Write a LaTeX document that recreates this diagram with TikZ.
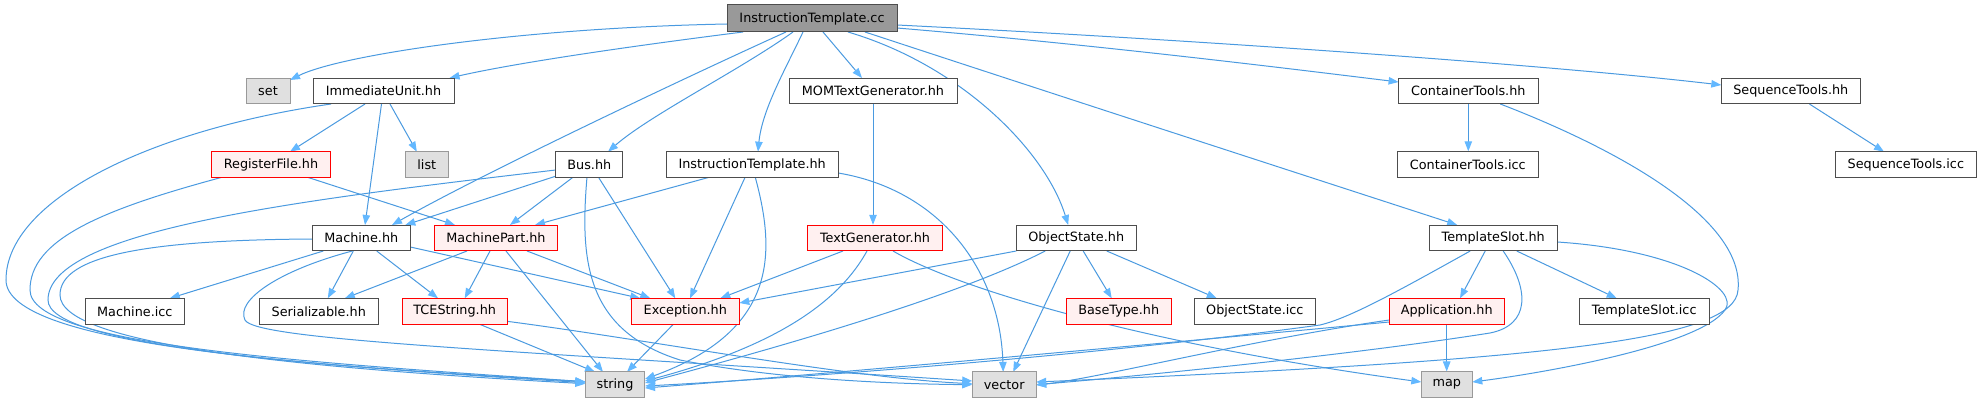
\documentclass[tikz,border=0pt]{standalone}
\usepackage{fontspec}
\setmainfont{DejaVu Sans}
\usetikzlibrary{arrows.meta,calc}
\definecolor{edgec}{HTML}{63B8FF}
\definecolor{edgeline}{HTML}{4A9AE0}
\definecolor{nodeborder}{HTML}{4D4D4D}
\definecolor{greyfill}{HTML}{E0E0E0}
\definecolor{greyborder}{HTML}{999999}
\definecolor{mainfill}{HTML}{999999}
\definecolor{truncfill}{HTML}{FFF0F0}
\pgfdeclarelayer{bg}
\pgfsetlayers{bg,main}
\begin{document}
\begin{tikzpicture}[x=0.75pt,y=-0.75pt,
  base/.style={rectangle, inner sep=0pt, minimum height=19.1pt, line width=0.75pt,
    font=\fontsize{9.6}{11}\selectfont, text=black},
  nrm/.style={base, draw=nodeborder, fill=white},
  grey/.style={base, draw=greyborder, fill=greyfill},
  trunc/.style={base, draw=red, fill=truncfill},
  mainnode/.style={base, draw=nodeborder, fill=mainfill},
  wd/.style={minimum width=#1*0.75pt},
  dep/.style={draw=edgeline, line width=0.75pt, -{Triangle[length=7.5pt,width=5.6pt,color=edgec]}}]
\useasboundingbox (0,0) rectangle (1981,403);

\node[mainnode, wd=170, minimum height=20.25pt] (ITcc) at (812,18.5) {InstructionTemplate.cc};
\node[grey, wd=44] (set) at (268,91) {set};
\node[nrm, wd=141] (IU) at (383.5,91) {ImmediateUnit.hh};
\node[nrm, wd=168] (MOM) at (873,91) {MOMTextGenerator.hh};
\node[nrm, wd=139.4] (CTh) at (1468.3,91) {ContainerTools.hh};
\node[nrm, wd=139] (STh) at (1790.8,91) {SequenceTools.hh};
\node[trunc, wd=119] (RF) at (271,164.5) {RegisterFile.hh};
\node[grey, wd=43] (list) at (426.8,164.5) {list};
\node[nrm, wd=67.3] (Bus) at (589.3,164.5) {Bus.hh};
\node[nrm, wd=171.7] (IThh) at (752.2,164.5) {InstructionTemplate.hh};
\node[nrm, wd=141] (CTicc) at (1467.8,164.5) {ContainerTools.icc};
\node[nrm, wd=140.7] (STicc) at (1905.8,164.5) {SequenceTools.icc};
\node[nrm, wd=98] (Mach) at (361.3,238) {Machine.hh};
\node[trunc, wd=123.4] (MP) at (496,238) {MachinePart.hh};
\node[trunc, wd=134.6] (TG) at (875,238) {TextGenerator.hh};
\node[nrm, wd=119.7] (OS) at (1076.2,238) {ObjectState.hh};
\node[nrm, wd=127.7] (TSh) at (1493.2,238) {TemplateSlot.hh};
\node[nrm, wd=99] (Micc) at (134.8,311.3) {Machine.icc};
\node[nrm, wd=119] (Ser) at (318.8,311.3) {Serializable.hh};
\node[trunc, wd=104.7] (TCE) at (454.7,311.3) {TCEString.hh};
\node[trunc, wd=108] (Exc) at (685.3,311.3) {Exception.hh};
\node[trunc, wd=105.3] (BT) at (1118.7,311.3) {BaseType.hh};
\node[nrm, wd=121] (OSicc) at (1254.8,311.3) {ObjectState.icc};
\node[trunc, wd=114.7] (App) at (1446.7,311.3) {Application.hh};
\node[nrm, wd=129.9] (TSicc) at (1644.2,311.3) {TemplateSlot.icc};
\node[grey, wd=59.4] (str) at (615,384.7) {string};
\node[grey, wd=63.7] (vec) at (1004.2,384.7) {vector};
\node[grey, wd=51] (map) at (1446.8,384.7) {map};

\begin{pgfonlayer}{bg}
\fill[white] (0,0) rectangle (1981,403);
% InstructionTemplate.cc
\draw[dep] ($(ITcc)+(-85,5.5)$) .. controls (520,28) and (340,55) .. ($(set)+(22,-11)$);
\draw[dep] ($(ITcc)+(-69,13.5)$) .. controls (640,45) and (520,62) .. ($(IU)+(66,-13)$);
\draw[dep] ($(ITcc)+(-26,13.5)$) .. controls (680,80) and (480,175) .. ($(Mach)+(30.7,-13)$);
\draw[dep] ($(ITcc)+(-19,13.5)$) .. controls (740,70) and (650,115) .. ($(Bus)+(18.7,-12.8)$);
\draw[dep] ($(ITcc)+(-9,13.5)$) .. controls (785,70) and (762,110) .. ($(IThh)+(5.8,-12.8)$);
\draw[dep] ($(ITcc)+(11,13.5)$) -- ($(MOM)+(-11,-13)$);
\draw[dep] ($(ITcc)+(36,13.5)$) .. controls (960,65) and (1045,150) .. ($(OS)+(-8,-13)$);
\draw[dep] ($(ITcc)+(53,13.5)$) .. controls (1060,96) and (1260,161) .. ($(TSh)+(-36,-13)$);
\draw[dep] ($(ITcc)+(85,9.5)$) .. controls (1100,45) and (1300,70) .. ($(CTh)+(-69.7,-9)$);
\draw[dep] ($(ITcc)+(85,6.5)$) .. controls (1200,40) and (1550,65) .. ($(STh)+(-69.5,-6)$);
% ImmediateUnit.hh
\draw[dep] ($(IU)+(-52.5,13)$) .. controls (150,130) and (6,200) .. (6,280) .. controls (6,345) and (300,365) .. ($(str)+(-29.7,-3)$);
\draw[dep] ($(IU)+(-18.5,13)$) -- ($(RF)+(19,-12.8)$);
\draw[dep] ($(IU)+(-2,13)$) -- ($(Mach)+(3.7,-13)$);
\draw[dep] ($(IU)+(6.5,13)$) -- ($(list)+(-10,-12.8)$);
% RegisterFile.hh
\draw[dep] ($(RF)+(-48,12.5)$) .. controls (100,210) and (30,240) .. (30,290) .. controls (30,345) and (300,362) .. ($(str)+(-29.7,-3)$);
\draw[dep] ($(RF)+(35.7,12.5)$) -- ($(MP)+(-41,-13)$);
% Bus.hh
\draw[dep] ($(Bus)+(-33.6,5.5)$) .. controls (300,200) and (48,230) .. (48,300) .. controls (48,345) and (300,365) .. ($(str)+(-29.7,-2)$);
\draw[dep] ($(Bus)+(-33,11.5)$) -- ($(Mach)+(44,-13)$);
\draw[dep] ($(Bus)+(-16,12.5)$) -- ($(MP)+(14,-13)$);
\draw[dep] ($(Bus)+(9,12.5)$) -- ($(Exc)+(-10,-13)$);
\draw[dep] ($(Bus)+(-2.3,12.5)$) .. controls (580,260) and (585,330) .. (680,360) .. controls (780,380) and (900,384) .. ($(vec)+(-32,0)$);
% InstructionTemplate.hh
\draw[dep] ($(IThh)+(-42,12.5)$) -- ($(MP)+(39,-13)$);
\draw[dep] ($(IThh)+(-7,12.5)$) -- ($(Exc)+(4.7,-13)$);
\draw[dep] ($(IThh)+(3,12.5)$) .. controls (775,250) and (780,330) .. ($(str)+(30,-5.7)$);
\draw[dep] ($(IThh)+(86,8.5)$) .. controls (940,190) and (1000,270) .. ($(vec)+(-1,-12.8)$);
% MOMTextGenerator.hh
\draw[dep] (MOM.south) -- (MOM.south |- TG.north);
% TextGenerator.hh
\draw[dep] ($(TG)+(-32,13)$) -- ($(Exc)+(35,-13)$);
\draw[dep] ($(TG)+(-8,13)$) .. controls (840,300) and (780,345) .. ($(str)+(30,-3.7)$);
\draw[dep] ($(TG)+(18,13)$) .. controls (960,290) and (1150,345) .. ($(map)+(-25.5,-2.7)$);
% ObjectState.hh
\draw[dep] ($(OS)+(-60,13)$) -- ($(Exc)+(54,-8.3)$);
\draw[dep] ($(OS)+(-31,13)$) .. controls (950,300) and (750,355) .. ($(str)+(30,-1.7)$);
\draw[dep] ($(OS)+(-6,13)$) -- ($(vec)+(9,-12.8)$);
\draw[dep] ($(OS)+(7,13)$) -- ($(BT)+(-7,-13)$);
\draw[dep] ($(OS)+(30.5,13)$) -- ($(OSicc)+(-38,-13)$);
% TemplateSlot.hh
\draw[dep] ($(TSh)+(-8,13)$) -- ($(App)+(13.3,-13)$);
\draw[dep] ($(TSh)+(23.5,13)$) -- ($(TSicc)+(-27.5,-13)$);
\draw[dep] ($(TSh)+(-23,13)$) .. controls (1400,290) and (1350,318) .. (1320,325) .. controls (1100,355) and (800,378) .. ($(str)+(30,1.3)$);
\draw[dep] ($(TSh)+(10,13)$) .. controls (1530,290) and (1530,325) .. (1490,333) .. controls (1350,355) and (1150,375) .. ($(vec)+(32,0)$);
\draw[dep] ($(TSh)+(64,4)$) .. controls (1680,250) and (1740,290) .. (1725,310) .. controls (1700,345) and (1550,372) .. ($(map)+(25.5,-2.7)$);
% ContainerTools.hh
\draw[dep] (CTh.south) -- (CTh.south |- CTicc.north);
\draw[dep] ($(CTh)+(32,13)$) .. controls (1620,150) and (1745,220) .. (1738,290) .. controls (1735,340) and (1550,360) .. ($(vec)+(32,-2.7)$);
% SequenceTools.hh
\draw[dep] ($(STh)+(18.6,13)$) -- ($(STicc)+(-21.8,-12.8)$);
% Application.hh
\draw[dep] (App.south) -- (App.south |- map.north);
\draw[dep] ($(App)+(-57.4,10.7)$) .. controls (1200,340) and (850,372) .. ($(str)+(30,3.3)$);
\draw[dep] ($(App)+(-57.4,8.7)$) .. controls (1250,340) and (1100,378) .. ($(vec)+(32,0.3)$);
% Machine.hh
\draw[dep] ($(Mach)+(-49,1)$) .. controls (150,240) and (60,255) .. (60,295) .. controls (60,345) and (300,368) .. ($(str)+(-29.7,-1)$);
\draw[dep] ($(Mach)+(-9,13)$) .. controls (280,270) and (235,300) .. (245,320) .. controls (255,340) and (500,350) .. ($(vec)+(-32,-3.7)$);
\draw[dep] ($(Mach)+(-38,13)$) -- ($(Micc)+(35,-13)$);
\draw[dep] ($(Mach)+(-8,13)$) -- ($(Ser)+(9,-13)$);
\draw[dep] ($(Mach)+(15.4,13)$) -- ($(TCE)+(-16.7,-13)$);
\draw[dep] ($(Mach)+(49,9)$) -- ($(Exc)+(-45,-13)$);
% MachinePart.hh
\draw[dep] ($(MP)+(-29,13)$) -- ($(Ser)+(26,-13)$);
\draw[dep] ($(MP)+(-6,13)$) -- ($(TCE)+(10,-13)$);
\draw[dep] ($(MP)+(31,13)$) -- ($(Exc)+(-35,-13)$);
\draw[dep] ($(MP)+(10,13)$) -- ($(str)+(-12,-12.8)$);
% TCEString.hh
\draw[dep] ($(TCE)+(25,13)$) -- ($(str)+(-20,-12.8)$);
\draw[dep] ($(TCE)+(52.3,10)$) .. controls (650,340) and (850,378) .. ($(vec)+(-32,-1)$);
% Exception.hh
\draw[dep] ($(Exc)+(-12,13)$) -- ($(str)+(12,-12.8)$);
\end{pgfonlayer}
\end{tikzpicture}
\end{document}
